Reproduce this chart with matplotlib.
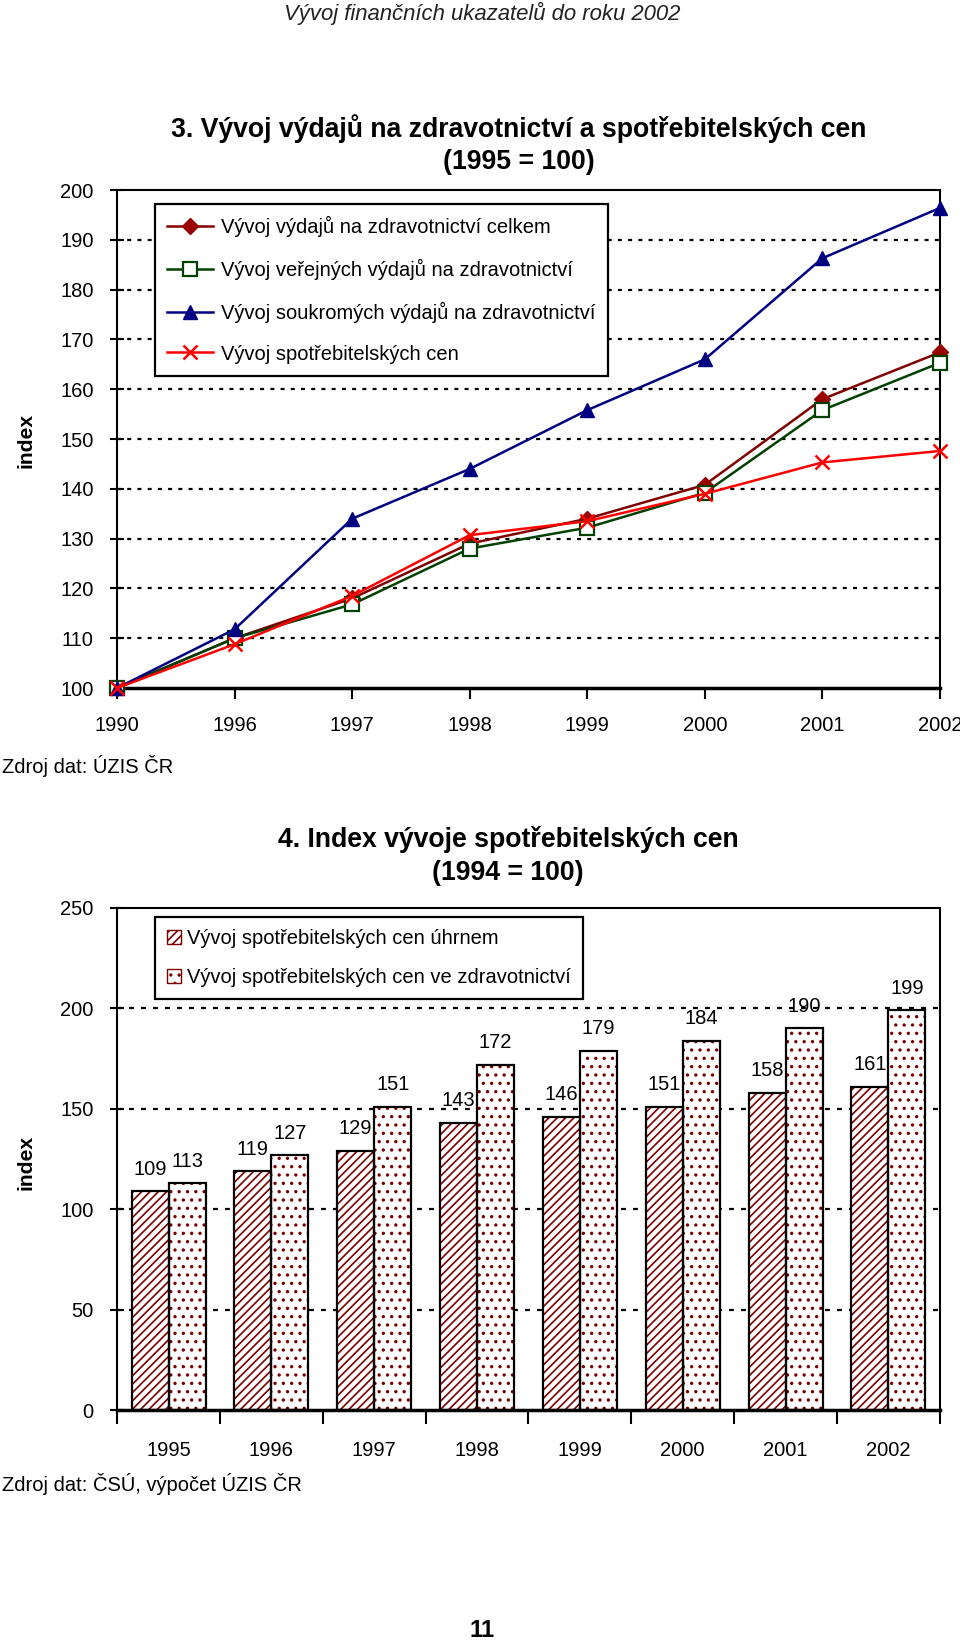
import numpy as np
import matplotlib
matplotlib.use("Agg")
import matplotlib.pyplot as plt
from matplotlib import font_manager
from matplotlib.patches import Patch

# --- data: chart 3 (1995 = 100)
years_top = ["1990", "1996", "1997", "1998", "1999", "2000", "2001", "2002"]
total_exp = [100, 110, 118, 129, 134, 140.8, 158, 167.4]
public_exp = [100, 110, 116.8, 128, 132.2, 139.2, 155.8, 165.3]
private_exp = [100, 111.8, 134, 144, 155.8, 166, 186.3, 196.4]
cpi_top = [100, 108.8, 118.5, 130.7, 133.5, 139, 145.3, 147.6]
top_labels = [
    "Vývoj výdajů na zdravotnictví celkem",
    "Vývoj veřejných výdajů na zdravotnictví",
    "Vývoj soukromých výdajů na zdravotnictví",
    "Vývoj spotřebitelských cen",
]

# --- data: chart 4 (1994 = 100)
years_bottom = ["1995", "1996", "1997", "1998", "1999", "2000", "2001", "2002"]
cpi_total = [109, 119, 129, 143, 146, 151, 158, 161]
cpi_health = [113, 127, 151, 172, 179, 184, 190, 199]
bottom_labels = [
    "Vývoj spotřebitelských cen úhrnem",
    "Vývoj spotřebitelských cen ve zdravotnictví",
]

names = {f.name for f in font_manager.fontManager.ttflist}
narrow = "Liberation Sans Narrow" in names
font = "Liberation Sans Narrow" if narrow else "Liberation Sans"
k = 1.2 if narrow else 1.0
plt.rcParams["font.family"] = [font, "DejaVu Sans"]
plt.rcParams["hatch.linewidth"] = 1.2

fs_tick = 14.5 * k
fs_title = 19.2 * k
MAROON = "#7a0000"

fig = plt.figure(figsize=(9.6, 16.44), dpi=100)

fig.text(0.502, 0.992, "Vývoj finančních ukazatelů do roku 2002", ha="center",
         va="center", style="italic", fontsize=15.9 * k, color="#222222")

# ---------------- chart 3 ----------------
ax1 = fig.add_axes([0.122, 0.5815, 0.857, 0.3029])
x = np.arange(len(years_top))
styles = [
    dict(color="#800000", marker="D", ms=8, mfc="#990000", mec="#990000"),
    dict(color="#004000", marker="s", ms=9.5, mfc="white", mec="#004000", mew=1.6),
    dict(color="#000080", marker="^", ms=10.5, mfc="#000080", mec="#000080"),
    dict(color="#ff0000", marker="x", ms=10, mew=1.8),
]
for vals, lab, st in zip([total_exp, public_exp, private_exp, cpi_top], top_labels, styles):
    ax1.plot(x, vals, lw=1.8, label=lab, clip_on=False, zorder=4, **st)

ax1.set_xlim(0, len(years_top) - 1)
ax1.set_ylim(100, 200)
ax1.set_yticks(np.arange(100, 201, 10))
ax1.set_xticks(x)
ax1.set_xticklabels(years_top)
for yv in range(110, 200, 10):
    ax1.axhline(yv, color="black", lw=1.6, ls=(0, (1.8, 2.8)), zorder=1)
for s in ax1.spines.values():
    s.set_linewidth(1.5)
ax1.spines["bottom"].set_linewidth(2.5)
ax1.tick_params(axis="y", direction="inout", length=10, width=1.5, pad=12, labelsize=fs_tick)
ax1.tick_params(axis="x", direction="out", length=8, width=1.5, pad=12, labelsize=fs_tick)
leg1 = ax1.legend(loc="upper left", bbox_to_anchor=(0.046, 0.972), borderaxespad=0,
                  fontsize=fs_tick, frameon=True, fancybox=False, framealpha=1,
                  edgecolor="black", handlelength=2.3, labelspacing=1.08,
                  borderpad=0.6, handletextpad=0.4)
leg1.get_frame().set_linewidth(1.6)
leg1.set_zorder(5)

fig.text(0.54, 0.922, "3. Vývoj výdajů na zdravotnictví a spotřebitelských cen",
         ha="center", va="center", fontweight="bold", fontsize=fs_title)
fig.text(0.54, 0.9015, "(1995 = 100)", ha="center", va="center",
         fontweight="bold", fontsize=fs_title)
fig.text(0.027, 0.732, "index", rotation=90, ha="center", va="center",
         fontweight="bold", fontsize=fs_tick * 1.05)
fig.text(0.002, 0.534, "Zdroj dat: ÚZIS ČR", ha="left", va="center", fontsize=fs_tick)

# ---------------- chart 4 ----------------
ax2 = fig.add_axes([0.122, 0.1423, 0.857, 0.3054])
xb = np.arange(len(years_bottom))
w = 0.36
b1 = ax2.bar(xb - w / 2, cpi_total, w, color="white", edgecolor=MAROON, hatch="////",
             lw=0.5, zorder=2)
b2 = ax2.bar(xb + w / 2, cpi_health, w, color="white", edgecolor=MAROON, hatch="..",
             lw=0.5, zorder=2)
ax2.bar(xb - w / 2, cpi_total, w, fill=False, edgecolor="black", lw=1.6, zorder=3)
ax2.bar(xb + w / 2, cpi_health, w, fill=False, edgecolor="black", lw=1.6, zorder=3)
ax2.bar_label(b1, padding=9, fontsize=fs_tick)
ax2.bar_label(b2, padding=9, fontsize=fs_tick)

ax2.set_xlim(-0.5, len(years_bottom) - 0.5)
ax2.set_ylim(0, 250)
ax2.set_yticks(np.arange(0, 251, 50))
ax2.set_xticks(xb)
ax2.set_xticklabels(years_bottom)
ax2.set_xticks(np.arange(-0.5, len(years_bottom)), minor=True)
for yv in range(50, 250, 50):
    ax2.axhline(yv, color="black", lw=1.6, ls=(0, (2.2, 3.2)), zorder=1)
for s in ax2.spines.values():
    s.set_linewidth(1.5)
ax2.spines["bottom"].set_linewidth(2.5)
ax2.tick_params(axis="y", direction="inout", length=10, width=1.5, pad=12, labelsize=fs_tick)
ax2.tick_params(axis="x", which="major", length=0, pad=22, labelsize=fs_tick)
ax2.tick_params(axis="x", which="minor", direction="out", length=10, width=1.5)

handles = [Patch(facecolor="white", edgecolor=MAROON, hatch="////"),
           Patch(facecolor="white", edgecolor=MAROON, hatch="..")]
leg2 = ax2.legend(handles, bottom_labels, loc="upper left",
                  bbox_to_anchor=(0.046, 0.982), borderaxespad=0, fontsize=fs_tick,
                  frameon=True, fancybox=False, framealpha=1, edgecolor="black",
                  handlelength=0.7, handleheight=0.7, labelspacing=1.0,
                  borderpad=0.6, handletextpad=0.3)
leg2.get_frame().set_linewidth(1.6)
leg2.set_zorder(5)

fig.text(0.529, 0.4896, "4. Index vývoje spotřebitelských cen", ha="center",
         va="center", fontweight="bold", fontsize=fs_title)
fig.text(0.529, 0.469, "(1994 = 100)", ha="center", va="center",
         fontweight="bold", fontsize=fs_title)
fig.text(0.027, 0.293, "index", rotation=90, ha="center", va="center",
         fontweight="bold", fontsize=fs_tick * 1.05)
fig.text(0.002, 0.0972, "Zdroj dat: ČSÚ, výpočet ÚZIS ČR", ha="left", va="center",
         fontsize=fs_tick)

fig.text(0.502, 0.008, "11", ha="center", va="center", fontweight="bold",
         fontsize=fs_title * 0.9)

fig.savefig("out.png", dpi=100)
